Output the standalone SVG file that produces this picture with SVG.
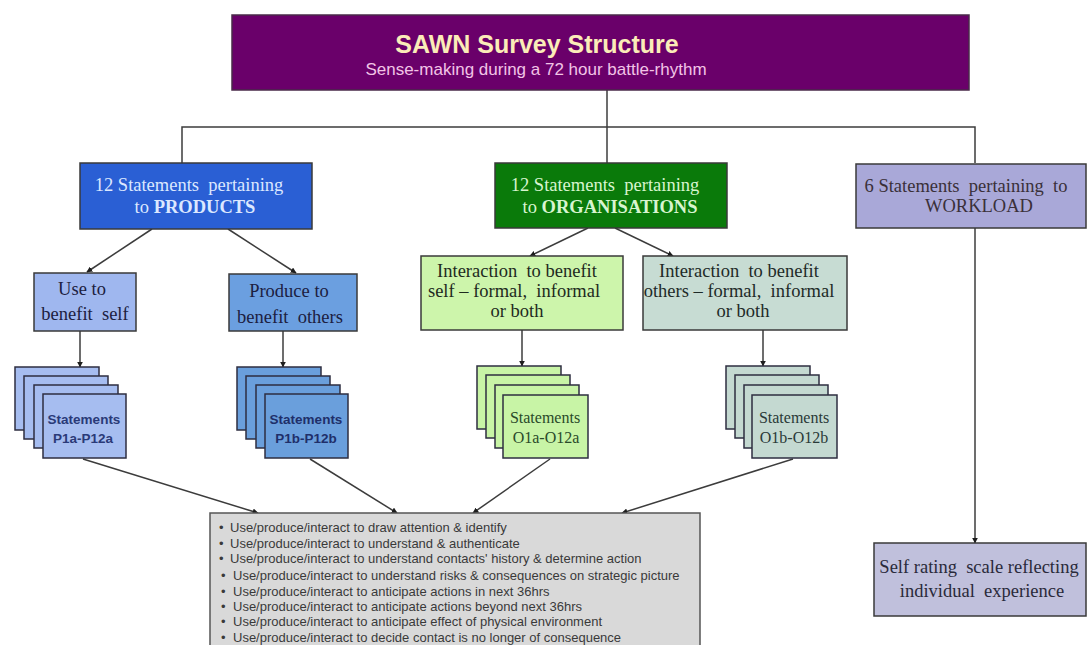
<svg xmlns="http://www.w3.org/2000/svg" width="1088" height="645" viewBox="0 0 1088 645">
  <style>
    .box { stroke: #3a3a3a; stroke-width: 1.5; }
    .card { stroke: #2e2e40; stroke-width: 1.5; }
    .conn { stroke: #3c3c3c; stroke-width: 1.5; fill: none; }
    .serif { font-family: "Liberation Serif", "Times New Roman", serif; }
    .sans { font-family: "Liberation Sans", Arial, sans-serif; }
    .lbl { font-size: 18.5px; text-anchor: middle; }
    .bul { font-size: 13px; fill: #3a3a3a; }
  </style>
  <defs>
    <marker id="arr" viewBox="0 0 10 10" refX="9" refY="5" markerWidth="6" markerHeight="6" orient="auto" markerUnits="userSpaceOnUse">
      <path d="M0,0 L10,5 L0,10 z" fill="#1e1e1e"/>
    </marker>
  </defs>

  <rect width="1088" height="645" fill="#ffffff"/>

  <!-- connectors -->
  <g id="connectors">
    <path class="conn" d="M607,90 V163"/>
    <path class="conn" d="M182,163 V127 H975 V163"/>
    <line class="conn" x1="152" y1="229" x2="87" y2="272" marker-end="url(#arr)"/>
    <line class="conn" x1="228" y1="229" x2="296" y2="273" marker-end="url(#arr)"/>
    <line class="conn" x1="588" y1="228" x2="530" y2="256" marker-end="url(#arr)"/>
    <line class="conn" x1="615" y1="228" x2="673" y2="256" marker-end="url(#arr)"/>
    <line class="conn" x1="80" y1="331" x2="80" y2="367" marker-end="url(#arr)"/>
    <line class="conn" x1="283" y1="331" x2="283" y2="367" marker-end="url(#arr)"/>
    <line class="conn" x1="522" y1="330" x2="522" y2="366" marker-end="url(#arr)"/>
    <line class="conn" x1="763" y1="330" x2="763" y2="366" marker-end="url(#arr)"/>
    <line class="conn" x1="83" y1="459" x2="258" y2="513" marker-end="url(#arr)"/>
    <line class="conn" x1="310" y1="459" x2="397" y2="513" marker-end="url(#arr)"/>
    <line class="conn" x1="550" y1="459" x2="473" y2="513" marker-end="url(#arr)"/>
    <line class="conn" x1="793" y1="459" x2="622" y2="513" marker-end="url(#arr)"/>
    <line class="conn" x1="975" y1="228" x2="975" y2="543" marker-end="url(#arr)"/>
  </g>

  <!-- title -->
  <g id="title">
    <rect x="232" y="15" width="737" height="75" fill="#6a006a" stroke="#4a2a4a" stroke-width="1.5"/>
    <text class="sans" x="537" y="53" font-size="25" font-weight="bold" fill="#fbecb8" text-anchor="middle">SAWN Survey Structure</text>
    <text class="sans" x="536" y="75" font-size="17" fill="#f2c4e6" text-anchor="middle">Sense-making during a 72 hour battle-rhythm</text>
  </g>

  <!-- products -->
  <g id="products">
    <rect class="box" x="80" y="163" width="232" height="66" fill="#2a5fd4"/>
    <text class="serif lbl" x="189" y="191" fill="#dce8ff" xml:space="preserve">12 Statements  pertaining</text>
    <text class="serif lbl" x="195" y="213" fill="#dce8ff">to <tspan font-weight="bold">PRODUCTS</tspan></text>
  </g>

  <!-- organisations -->
  <g id="organisations">
    <rect class="box" x="495" y="163" width="232" height="65" fill="#0a7a0a"/>
    <text class="serif lbl" x="605" y="191" fill="#d8f5d0" xml:space="preserve">12 Statements  pertaining</text>
    <text class="serif lbl" x="610" y="213" fill="#d8f5d0">to <tspan font-weight="bold">ORGANISATIONS</tspan></text>
  </g>

  <!-- workload -->
  <g id="workload">
    <rect class="box" x="856" y="164" width="230" height="64" fill="#a9a8d8"/>
    <text class="serif lbl" x="966" y="192" fill="#3a3038" xml:space="preserve">6 Statements  pertaining  to</text>
    <text class="serif lbl" x="979" y="212" fill="#3a3038">WORKLOAD</text>
  </g>

  <!-- use to benefit self -->
  <g id="use-self">
    <rect class="box" x="34" y="273" width="102" height="58" fill="#9fb7ef"/>
    <text class="serif lbl" x="82" y="295" fill="#1c2040">Use to</text>
    <text class="serif lbl" x="85" y="320" fill="#1c2040" xml:space="preserve">benefit  self</text>
  </g>

  <!-- produce to benefit others -->
  <g id="produce-others">
    <rect class="box" x="229" y="274" width="128" height="57" fill="#6b9fe0"/>
    <text class="serif lbl" x="289" y="297" fill="#1c2040">Produce to</text>
    <text class="serif lbl" x="290" y="323" fill="#1c2040" xml:space="preserve">benefit  others</text>
  </g>

  <!-- interaction to benefit self -->
  <g id="interact-self">
    <rect class="box" x="421" y="256" width="202" height="74" fill="#cdf5ab"/>
    <text class="serif lbl" x="517" y="277" fill="#1e2a1e" xml:space="preserve">Interaction  to benefit</text>
    <text class="serif lbl" x="514" y="297" fill="#1e2a1e" xml:space="preserve">self – formal,  informal</text>
    <text class="serif lbl" x="517" y="317" fill="#1e2a1e">or both</text>
  </g>

  <!-- interaction to benefit others -->
  <g id="interact-others">
    <rect class="box" x="643" y="256" width="204" height="74" fill="#c7dcd3"/>
    <text class="serif lbl" x="739" y="277" fill="#1e2a28" xml:space="preserve">Interaction  to benefit</text>
    <text class="serif lbl" x="739" y="297" fill="#1e2a28" xml:space="preserve">others – formal,  informal</text>
    <text class="serif lbl" x="743" y="317" fill="#1e2a28">or both</text>
  </g>

  <!-- statement stacks -->
  <g id="stack-p1a">
    <rect class="card" x="15" y="367" width="84" height="63" fill="#a6bdf0"/>
    <rect class="card" x="24" y="376" width="84" height="63" fill="#a6bdf0"/>
    <rect class="card" x="34" y="385" width="84" height="63" fill="#a6bdf0"/>
    <rect class="card" x="43" y="394" width="83" height="64" fill="#a6bdf0"/>
    <text class="sans" x="84" y="424" font-size="13.5" font-weight="bold" fill="#2a3a78" text-anchor="middle">Statements</text>
    <text class="sans" x="83" y="443" font-size="13.5" font-weight="bold" fill="#2a3a78" text-anchor="middle">P1a-P12a</text>
  </g>

  <g id="stack-p1b">
    <rect class="card" x="237" y="367" width="84" height="63" fill="#6a9fdc"/>
    <rect class="card" x="246" y="376" width="84" height="63" fill="#6a9fdc"/>
    <rect class="card" x="256" y="385" width="84" height="63" fill="#6a9fdc"/>
    <rect class="card" x="265" y="394" width="83" height="64" fill="#6a9fdc"/>
    <text class="sans" x="306" y="424" font-size="13.5" font-weight="bold" fill="#1f2f6a" text-anchor="middle">Statements</text>
    <text class="sans" x="306" y="443" font-size="13.5" font-weight="bold" fill="#1f2f6a" text-anchor="middle">P1b-P12b</text>
  </g>

  <g id="stack-o1a">
    <rect class="card" x="477" y="366" width="84" height="63" fill="#c8f4a6"/>
    <rect class="card" x="486" y="375" width="84" height="63" fill="#c8f4a6"/>
    <rect class="card" x="495" y="385" width="84" height="63" fill="#c8f4a6"/>
    <rect class="card" x="503" y="395" width="85" height="63" fill="#c8f4a6"/>
    <text class="serif" x="545" y="423" font-size="16" fill="#2a4a2a" text-anchor="middle">Statements</text>
    <text class="serif" x="546" y="443" font-size="16" fill="#2a4a2a" text-anchor="middle">O1a-O12a</text>
  </g>

  <g id="stack-o1b">
    <rect class="card" x="726" y="366" width="84" height="63" fill="#c4d9d1"/>
    <rect class="card" x="735" y="375" width="84" height="63" fill="#c4d9d1"/>
    <rect class="card" x="744" y="385" width="84" height="63" fill="#c4d9d1"/>
    <rect class="card" x="752" y="395" width="85" height="63" fill="#c4d9d1"/>
    <text class="serif" x="794" y="423" font-size="16" fill="#2a3a38" text-anchor="middle">Statements</text>
    <text class="serif" x="794" y="443" font-size="16" fill="#2a3a38" text-anchor="middle">O1b-O12b</text>
  </g>

  <!-- purposes list -->
  <g id="purposes">
    <rect x="210" y="513" width="490" height="140" fill="#d9d9d9" stroke="#555555" stroke-width="1.5"/>
    <g class="sans bul">
      <text x="219" y="532">•</text><text x="230" y="532">Use/produce/interact to draw attention &amp; identify</text>
      <text x="219" y="548">•</text><text x="230" y="548">Use/produce/interact to understand &amp; authenticate</text>
      <text x="219" y="563">•</text><text x="230" y="563">Use/produce/interact to understand contacts' history &amp; determine action</text>
      <text x="221" y="580">•</text><text x="233" y="580">Use/produce/interact to understand risks &amp; consequences on strategic picture</text>
      <text x="221" y="596">•</text><text x="233" y="596">Use/produce/interact to anticipate actions in next 36hrs</text>
      <text x="221" y="611">•</text><text x="233" y="611">Use/produce/interact to anticipate actions beyond next 36hrs</text>
      <text x="221" y="626">•</text><text x="233" y="626">Use/produce/interact to anticipate effect of physical environment</text>
      <text x="221" y="642">•</text><text x="233" y="642">Use/produce/interact to decide contact is no longer of consequence</text>
    </g>
  </g>

  <!-- self rating -->
  <g id="self-rating">
    <rect class="box" x="874" y="543" width="212" height="73" fill="#c0c0dc"/>
    <text class="serif lbl" x="979" y="573" fill="#2a2a3a" xml:space="preserve">Self rating  scale reflecting</text>
    <text class="serif lbl" x="982" y="597" fill="#2a2a3a" xml:space="preserve">individual  experience</text>
  </g>
</svg>
